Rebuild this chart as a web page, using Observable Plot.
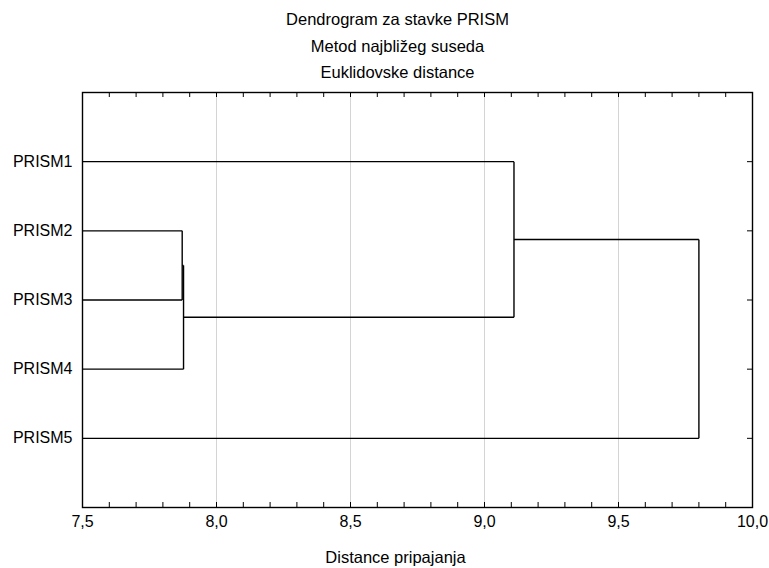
<!DOCTYPE html>
<html>
<head>
<meta charset="utf-8">
<script src="https://cdn.jsdelivr.net/npm/d3@7"></script>
<script src="https://cdn.jsdelivr.net/npm/@observablehq/plot@0.6"></script>
<style>
  body { margin: 0; background: white; }
</style>
</head>
<body>
<div id="chart"></div>
<script>
// ---- data ----
const titleLines = ["Dendrogram za stavke PRISM", "Metod najbližeg suseda", "Euklidovske distance"];
const xLabel = "Distance pripajanja";
const leaves = ["PRISM1", "PRISM2", "PRISM3", "PRISM4", "PRISM5"];
// linkage: nodes 0..4 are leaves, node 5+ are merges in order
const mergeA = [1, 5, 0, 7];
const mergeB = [2, 3, 6, 4];
const mergeHeight = [7.872, 7.877, 9.11, 9.80];
const xTicks = [7.5, 8.0, 8.5, 9.0, 9.5, 10.0];
const gridTicks = [8.0, 8.5, 9.0, 9.5];
const minorTicks = d3.range(75, 101).map(d => d / 10);
const xDomain = [7.5, 10];

// ---- build dendrogram segments ----
const nodes = leaves.map((name, i) => ({y: i + 1, h: xDomain[0]}));
const segments = [];
mergeA.forEach((a, k) => {
  const b = mergeB[k], h = mergeHeight[k];
  const na = nodes[a], nb = nodes[b];
  segments.push({x1: na.h, y1: na.y, x2: h, y2: na.y});
  segments.push({x1: nb.h, y1: nb.y, x2: h, y2: nb.y});
  segments.push({x1: h, y1: na.y, x2: h, y2: nb.y});
  nodes.push({y: (na.y + nb.y) / 2, h});
});

const W = 769, H = 568;
const mL = 82, mR = 17, mT = 92, mB = 61;
const fmt = d => d.toFixed(1).replace(".", ",");
const font = "'Liberation Sans', Arial, sans-serif";

const chart = Plot.plot({
  width: W,
  height: H,
  marginLeft: mL,
  marginRight: mR,
  marginTop: mT,
  marginBottom: mB,
  style: {fontFamily: font, fontSize: "16px", background: "white", color: "black"},
  x: {domain: xDomain},
  y: {domain: [0, leaves.length + 1], reverse: true},
  marks: [
    Plot.ruleX(gridTicks, {stroke: "#d4d4d4", strokeWidth: 1}),
    Plot.ruleX(minorTicks, {insetTop: H - mT - mB - 5, stroke: "black"}),
    Plot.ruleX(minorTicks, {insetBottom: H - mT - mB - 5, stroke: "black"}),
    Plot.ruleY(d3.range(1, leaves.length + 1), {insetLeft: W - mL - mR - 5, stroke: "black"}),
    Plot.axisX(xTicks, {tickSize: 0, tickPadding: 8, tickFormat: fmt, fontSize: 16}),
    Plot.axisY(d3.range(1, leaves.length + 1), {tickSize: 0, tickPadding: 10, tickFormat: d => leaves[d - 1], fontSize: 16}),
    Plot.link(segments, {x1: "x1", y1: "y1", x2: "x2", y2: "y2", stroke: "black", strokeWidth: 1.4}),
    Plot.frame({stroke: "black", strokeWidth: 1.4}),
    ...titleLines.map((t, i) => Plot.text([t], {frameAnchor: "top", dx: -20, dy: -79 + i * 26.5, fontSize: 16.5})),
    Plot.text([xLabel], {frameAnchor: "bottom", dx: -22, dy: 55, fontSize: 16.5})
  ]
});
document.getElementById("chart").appendChild(chart);
</script>
</body>
</html>
